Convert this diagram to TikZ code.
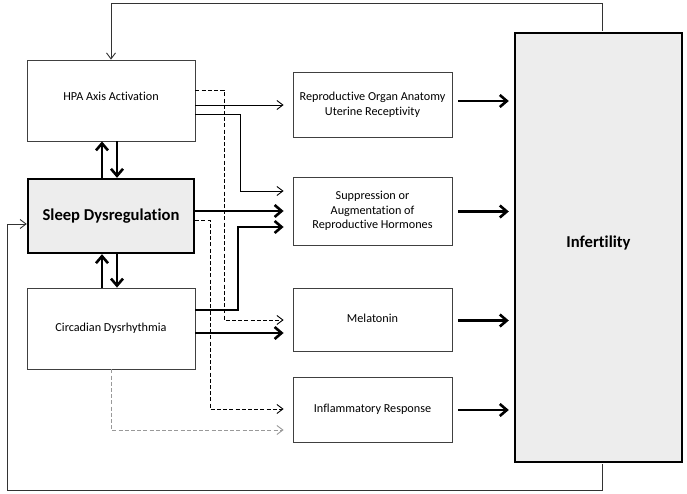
\documentclass[tikz,border=0pt]{standalone}
\usepackage{fontspec}
\setmainfont[Ligatures={NoCommon}]{Carlito}
\usetikzlibrary{arrows.meta}
\begin{document}
\begin{tikzpicture}[x=1pt,y=-1pt,
  thinbox/.style={draw=black!75,line width=0.8pt,fill=white,inner sep=2pt,align=center,font=\fontsize{12.2}{14.5}\selectfont},
  thickbox/.style={draw=black,line width=2.4pt,fill=black!7,inner sep=2pt,align=center,font=\fontsize{16.6}{19}\selectfont\bfseries},
  thinarr/.style={line width=0.9pt,-{Straight Barb[length=6pt,width=9pt,line width=0.9pt]}},
  thickarr/.style={line width=2.6pt,-{Straight Barb[length=7pt,width=12pt,line width=2.6pt]}},
  dasharr/.style={line width=0.9pt,dash pattern=on 4pt off 2.2pt,-{Straight Barb[length=6pt,width=9pt,line width=0.9pt]}},
  grayarr/.style={line width=0.9pt,draw=black!40,dash pattern=on 4pt off 2.2pt,-{Straight Barb[length=6pt,width=9pt,line width=0.9pt]}},
  loop/.style={line width=0.8pt,draw=black!80}
]
\useasboundingbox (0,0) rectangle (687,494);
\fill[white] (0,0) rectangle (687,494);

\node[thinbox,minimum width=168pt,minimum height=81pt] (hpa) at (111,100.5) {};
\node[font=\fontsize{12.2}{14.5}\selectfont] (hpat) at (111,96) {HPA Axis Activation};
\node[thickbox,minimum width=166pt,minimum height=74pt] (sleep) at (111,216) {Sleep Dysregulation};
\node[thinbox,minimum width=168pt,minimum height=81pt] (circ) at (111,328.5) {Circadian Dysrhythmia};

\node[thinbox,minimum width=159pt,minimum height=65pt] (repro) at (372.5,104.5) {Reproductive Organ Anatomy\\Uterine Receptivity};
\node[thinbox,minimum width=159pt,minimum height=68pt] (supp) at (372.5,211) {Suppression or\\Augmentation of\\Reproductive Hormones};
\node[thinbox,minimum width=159pt,minimum height=63pt] (mel) at (372.5,319.5) {\raisebox{3pt}{Melatonin}};
\node[thinbox,minimum width=159pt,minimum height=65pt] (infl) at (372.5,409.5) {\raisebox{-2.5pt}{Inflammatory Response}};
\node[thickbox,minimum width=167pt,minimum height=429pt] (inf) at (598.5,247.5) {\raisebox{12pt}{Infertility}};

\coordinate (tx) at ([xshift=-9pt]repro.west);
\coordinate (hA) at ([yshift=10.5pt]hpa.east);
\coordinate (hB) at ([yshift=-4.5pt]hpa.east);
\coordinate (hC) at ([yshift=-13.5pt]hpa.east);
\coordinate (sA) at ([yshift=5pt]sleep.east);
\coordinate (sB) at ([yshift=-4pt]sleep.east);
\coordinate (cA) at ([yshift=18.5pt]circ.east);
\coordinate (cB) at ([yshift=-4.5pt]circ.east);

% vertical links
\draw[thickarr] ([xshift=-9pt]sleep.north) -- ([xshift=-9pt]hpa.south);
\draw[thickarr] ([xshift=6pt]hpa.south) -- ([xshift=6pt]sleep.north);
\draw[thickarr] ([xshift=-9pt]circ.north) -- ([xshift=-9pt]sleep.south);
\draw[thickarr] ([xshift=6pt]sleep.south) -- ([xshift=6pt]circ.north);

% from HPA
\draw[dasharr] (hA) -| (224,320) -- (tx |- 0,320);
\draw[thinarr] (hB) -- (tx |- hB);
\draw[thinarr] (hC) -| (240,191) -- (tx |- 0,191);
% from Sleep
\draw[thickarr] (sA) -- (tx |- sA);
\draw[dasharr] (sB) -| (210,409) -- (tx |- 0,409);
% from Circadian
\draw[thickarr] (cA) -| (238,227) -- (tx |- 0,227);
\draw[thickarr] (cB) -- (tx |- cB);
\draw[grayarr] (circ.south) |- (tx |- 0,430);

% to Infertility
\draw[thickarr] ([xshift=6pt]repro.east |- 0,101) -- ([xshift=-5pt]inf.west |- 0,101);
\draw[thickarr] ([xshift=6pt]supp.east |- 0,211.5) -- ([xshift=-5pt]inf.west |- 0,211.5);
\draw[thickarr] ([xshift=6pt]mel.east |- 0,320.5) -- ([xshift=-5pt]inf.west |- 0,320.5);
\draw[thickarr] ([xshift=6pt]infl.east |- 0,410) -- ([xshift=-5pt]inf.west |- 0,410);

% feedback loops
\draw[loop,thinarr] ([xshift=3.5pt,yshift=1.2pt]inf.north) |- (111,3.5) -- (hpa.north);
\draw[loop,thinarr] ([xshift=4pt,yshift=-1.2pt]inf.south) |- (7,490) |- ([yshift=-8pt]sleep.west);
\end{tikzpicture}
\end{document}
